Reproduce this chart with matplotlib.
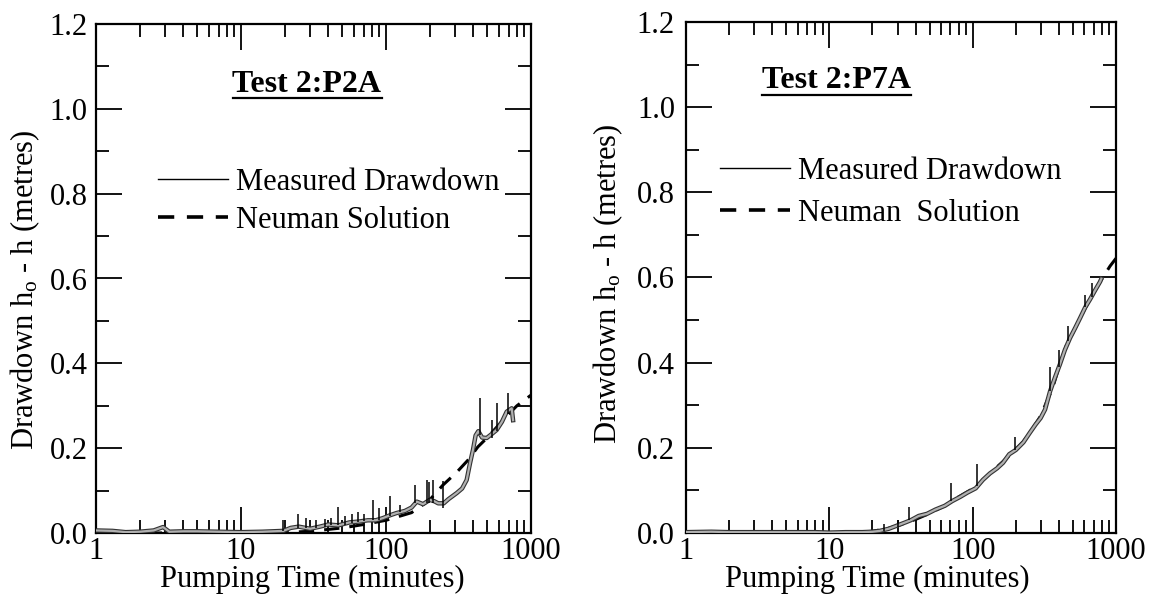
import matplotlib
matplotlib.use("Agg")
import matplotlib.pyplot as plt
from matplotlib.lines import Line2D
from matplotlib.ticker import FixedLocator, MultipleLocator, LogLocator, NullFormatter, FormatStrFormatter

plt.rcParams['font.family'] = ['Liberation Serif', 'DejaVu Serif']
plt.rcParams['mathtext.fontset'] = 'custom'
plt.rcParams['mathtext.rm'] = 'Liberation Serif'
plt.rcParams['mathtext.it'] = 'Liberation Serif:italic'

# ---- Test 2 : P2A ----
p2a_time = [1, 1.3, 1.6, 2, 2.5, 2.9, 3.2, 4, 5, 7, 10, 14, 19.6, 22, 25, 30, 35, 40, 47,
            56, 65, 75, 85, 95, 107, 118, 135, 150, 163, 180, 200, 215, 229, 250, 270,
            307, 335, 360, 380, 398, 415, 433, 460, 495, 530, 580, 630, 680, 736, 752]
p2a_draw = [0.006, 0.005, 0.002, 0.003, 0.006, 0.014, 0.003, 0.004, 0.004, 0.003, 0.002,
            0.003, 0.005, 0.012, 0.015, 0.010, 0.015, 0.020, 0.018, 0.025, 0.027, 0.030,
            0.030, 0.035, 0.042, 0.047, 0.052, 0.060, 0.074, 0.068, 0.078, 0.075, 0.070,
            0.070, 0.080, 0.094, 0.105, 0.125, 0.165, 0.196, 0.230, 0.240, 0.225, 0.224,
            0.232, 0.243, 0.262, 0.286, 0.294, 0.266]
p2a_spike_t = [19.6, 24.8, 28, 33, 38, 42, 47, 52, 58, 64, 70, 81, 90, 107, 125, 159, 191,
               198, 212, 248, 445, 536, 580, 697]
p2a_spike_lo = [0.005, 0.012, 0.012, 0.012, 0.015, 0.018, 0.018, 0.020, 0.024, 0.026, 0.028,
                0.030, 0.030, 0.040, 0.050, 0.070, 0.070, 0.070, 0.070, 0.060, 0.230, 0.225,
                0.240, 0.280]
p2a_spike_hi = [0.030, 0.045, 0.035, 0.030, 0.032, 0.035, 0.061, 0.040, 0.045, 0.050, 0.045,
                0.078, 0.060, 0.087, 0.066, 0.113, 0.125, 0.120, 0.125, 0.123, 0.318, 0.266,
                0.306, 0.330]
p2a_neuman_t = [1, 10, 20, 30, 50, 70, 100, 150, 200, 247, 309, 368, 430, 500, 600, 700, 800, 1000]
p2a_neuman_h = [0.0, 0.0, 0.001, 0.004, 0.012, 0.020, 0.030, 0.048, 0.078, 0.113, 0.144,
                0.172, 0.203, 0.225, 0.255, 0.280, 0.300, 0.325]

# ---- Test 2 : P7A ----
p7a_time = [1, 1.5, 2, 3, 5, 8, 10, 13, 17, 20, 22.5, 26, 30, 34, 37, 42, 48, 55, 64, 72, 82,
            92, 105, 118, 132, 148, 163, 180, 200, 226, 250, 275, 298, 320, 347, 375, 407,
            440, 478, 520, 562, 610, 660, 715, 774, 790]
p7a_draw = [0.002, 0.003, 0.002, 0.002, 0.002, 0.002, 0.001, 0.002, 0.002, 0.003, 0.005,
            0.010, 0.018, 0.025, 0.030, 0.040, 0.045, 0.055, 0.064, 0.075, 0.085, 0.095,
            0.105, 0.125, 0.140, 0.152, 0.165, 0.185, 0.195, 0.213, 0.235, 0.255, 0.270,
            0.290, 0.333, 0.365, 0.397, 0.430, 0.458, 0.482, 0.505, 0.530, 0.549, 0.570,
            0.590, 0.597]
p7a_spike_t = [24, 30, 36, 71, 108, 197, 347, 398, 463, 608, 681]
p7a_spike_lo = [0.005, 0.015, 0.030, 0.075, 0.110, 0.195, 0.333, 0.390, 0.450, 0.530, 0.555]
p7a_spike_hi = [0.020, 0.030, 0.062, 0.117, 0.161, 0.225, 0.390, 0.430, 0.486, 0.559, 0.587]
p7a_neuman_t = [1, 10, 15, 20, 25, 30, 40, 50, 64, 80, 105, 130, 163, 200, 226, 260, 298,
                330, 361, 400, 450, 500, 562, 660, 774, 910, 1000]
p7a_neuman_h = [0.0, 0.0, 0.001, 0.004, 0.010, 0.017, 0.032, 0.046, 0.064, 0.085, 0.108,
                0.138, 0.168, 0.197, 0.215, 0.243, 0.275, 0.310, 0.340, 0.390, 0.440, 0.470,
                0.505, 0.550, 0.590, 0.627, 0.645]

x_ticks = [1, 10, 100, 1000]
x_tick_labels = ["1", "10", "100", "1000"]
legend_labels = [["Measured Drawdown", "Neuman Solution"],
                 ["Measured Drawdown", "Neuman  Solution"]]
titles = ["Test 2:P2A", "Test 2:P7A"]

FS = 22
W, H = 1154, 609
fig = plt.figure(figsize=(W / 100, H / 100), dpi=100)

def fx(px):
    return px / W

def fy(py):
    return 1 - py / H

axL = fig.add_axes([fx(96), fy(533), fx(531) - fx(96), fy(24) - fy(533)])
axR = fig.add_axes([fx(686), fy(533), fx(1116) - fx(686), fy(22) - fy(533)])

panels = [
    (axL, p2a_time, p2a_draw, p2a_spike_t, p2a_spike_lo, p2a_spike_hi, p2a_neuman_t, p2a_neuman_h),
    (axR, p7a_time, p7a_draw, p7a_spike_t, p7a_spike_lo, p7a_spike_hi, p7a_neuman_t, p7a_neuman_h),
]

dash = (5, 3.3)
for ax, t, h, st, slo, shi, nt, nh in panels:
    ax.plot(nt, nh, color='black', lw=2.2, linestyle=(0, dash), zorder=2)
    ax.plot(t, h, color='#333333', lw=3.2, zorder=3)
    ax.plot(t, h, color='#b0b0b0', lw=1.6, zorder=4)
    ax.vlines(st, slo, shi, color='black', lw=1.1, zorder=5)

    ax.set_xscale('log')
    ax.set_xlim(1, 1000)
    ax.set_ylim(0, 1.2)
    ax.xaxis.set_major_locator(FixedLocator(x_ticks))
    ax.set_xticklabels(x_tick_labels)
    ax.xaxis.set_minor_locator(LogLocator(base=10, subs=range(2, 10)))
    ax.xaxis.set_minor_formatter(NullFormatter())
    ax.yaxis.set_major_locator(MultipleLocator(0.2))
    ax.yaxis.set_minor_locator(MultipleLocator(0.1))
    ax.yaxis.set_major_formatter(FormatStrFormatter('%.1f'))
    ax.tick_params(which='both', direction='in', top=True, right=True, width=1.3,
                   labelsize=FS)
    ax.tick_params(which='major', length=19)
    ax.tick_params(which='minor', length=9.5)
    ax.tick_params(axis='x', which='major', pad=3)
    ax.tick_params(axis='y', which='major', pad=6)
    for s in ax.spines.values():
        s.set_linewidth(1.6)
    ax.set_xlabel("Pumping Time (minutes)", fontsize=FS)
    ax.set_ylabel(r"Drawdown h$_\mathrm{o}$ - h (metres)", fontsize=FS)

axL.xaxis.set_label_coords(0.497, -0.062)
axR.xaxis.set_label_coords(0.444, -0.062)
axL.yaxis.set_label_coords(-0.124, 0.477)
axR.yaxis.set_label_coords(-0.142, 0.487)
axR.tick_params(axis='y', which='major', pad=8)

# legends
handles = [Line2D([], [], color='black', lw=1.0),
           Line2D([], [], color='black', lw=2.6, linestyle=(0, (4.5, 3.5)))]
for ax, labels, (x0, y0), spacing in [(axL, legend_labels[0], (158, 168), 0.3),
                                      (axR, legend_labels[1], (720, 157), 0.43)]:
    ax.legend(handles, labels, loc='upper left', bbox_to_anchor=(fx(x0), fy(y0)),
              bbox_transform=fig.transFigure, frameon=False, fontsize=FS,
              handlelength=2.3, handletextpad=0.25, labelspacing=spacing,
              borderpad=0, borderaxespad=0)

# underlined bold titles
title_texts = []
for ax, title, (cx, cy) in [(axL, titles[0], (307, 84)), (axR, titles[1], (836, 81))]:
    tt = fig.text(fx(cx), fy(cy), title, fontsize=23, fontweight='bold',
                  ha='center', va='center')
    title_texts.append(tt)

fig.canvas.draw()
renderer = fig.canvas.get_renderer()
for tt in title_texts:
    bb = tt.get_window_extent(renderer)
    yline = bb.y0 + 1
    fig.add_artist(Line2D([bb.x0 / W, bb.x1 / W], [yline / H, yline / H],
                          transform=fig.transFigure, color='black', lw=1.6))

fig.savefig("out.png", dpi=100)
